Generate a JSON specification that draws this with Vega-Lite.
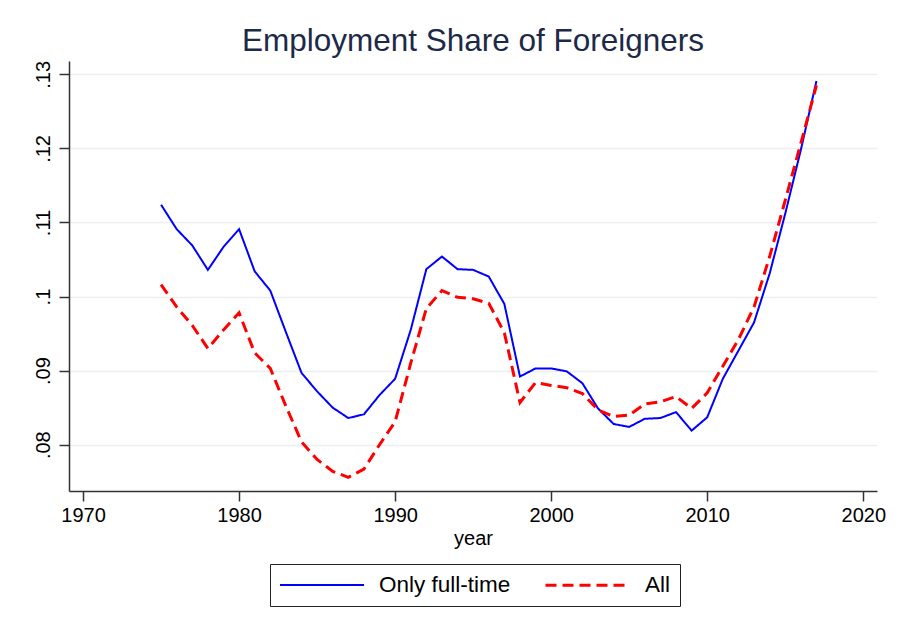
{
  "$schema": "https://vega.github.io/schema/vega-lite/v6.json",
  "width": 808,
  "height": 430,
  "autosize": {"type": "none"},
  "padding": {"left": 69, "top": 61, "right": 22, "bottom": 141},
  "background": "white",
  "config": {
    "view": {"stroke": null},
    "font": "Liberation Sans"
  },
  "title": {
    "text": "Employment Share of Foreigners",
    "font": "Liberation Sans",
    "fontSize": 31.5,
    "fontWeight": "normal",
    "color": "#1c2a48",
    "anchor": "middle",
    "offset": 3
  },
  "data": {
    "values": [
      {"year": 1975, "series": "Only full-time", "value": 0.1124},
      {"year": 1976, "series": "Only full-time", "value": 0.1091},
      {"year": 1977, "series": "Only full-time", "value": 0.1069},
      {"year": 1978, "series": "Only full-time", "value": 0.1036},
      {"year": 1979, "series": "Only full-time", "value": 0.1067},
      {"year": 1980, "series": "Only full-time", "value": 0.1091},
      {"year": 1981, "series": "Only full-time", "value": 0.1034},
      {"year": 1982, "series": "Only full-time", "value": 0.1008},
      {"year": 1983, "series": "Only full-time", "value": 0.0952},
      {"year": 1984, "series": "Only full-time", "value": 0.0897},
      {"year": 1985, "series": "Only full-time", "value": 0.0872},
      {"year": 1986, "series": "Only full-time", "value": 0.0850},
      {"year": 1987, "series": "Only full-time", "value": 0.0836},
      {"year": 1988, "series": "Only full-time", "value": 0.0841},
      {"year": 1989, "series": "Only full-time", "value": 0.0867},
      {"year": 1990, "series": "Only full-time", "value": 0.0889},
      {"year": 1991, "series": "Only full-time", "value": 0.0955},
      {"year": 1992, "series": "Only full-time", "value": 0.1037},
      {"year": 1993, "series": "Only full-time", "value": 0.1054},
      {"year": 1994, "series": "Only full-time", "value": 0.1037},
      {"year": 1995, "series": "Only full-time", "value": 0.1036},
      {"year": 1996, "series": "Only full-time", "value": 0.1027},
      {"year": 1997, "series": "Only full-time", "value": 0.0990},
      {"year": 1998, "series": "Only full-time", "value": 0.0892},
      {"year": 1999, "series": "Only full-time", "value": 0.0903},
      {"year": 2000, "series": "Only full-time", "value": 0.0903},
      {"year": 2001, "series": "Only full-time", "value": 0.0899},
      {"year": 2002, "series": "Only full-time", "value": 0.0883},
      {"year": 2003, "series": "Only full-time", "value": 0.0849},
      {"year": 2004, "series": "Only full-time", "value": 0.0828},
      {"year": 2005, "series": "Only full-time", "value": 0.0824},
      {"year": 2006, "series": "Only full-time", "value": 0.0835},
      {"year": 2007, "series": "Only full-time", "value": 0.0836},
      {"year": 2008, "series": "Only full-time", "value": 0.0844},
      {"year": 2009, "series": "Only full-time", "value": 0.0819},
      {"year": 2010, "series": "Only full-time", "value": 0.0837},
      {"year": 2011, "series": "Only full-time", "value": 0.0889},
      {"year": 2012, "series": "Only full-time", "value": 0.0927},
      {"year": 2013, "series": "Only full-time", "value": 0.0965},
      {"year": 2014, "series": "Only full-time", "value": 0.1031},
      {"year": 2015, "series": "Only full-time", "value": 0.1112},
      {"year": 2016, "series": "Only full-time", "value": 0.1198},
      {"year": 2017, "series": "Only full-time", "value": 0.1291},
      {"year": 1975, "series": "All", "value": 0.1016},
      {"year": 1976, "series": "All", "value": 0.0986},
      {"year": 1977, "series": "All", "value": 0.0961},
      {"year": 1978, "series": "All", "value": 0.0930},
      {"year": 1979, "series": "All", "value": 0.0955},
      {"year": 1980, "series": "All", "value": 0.0978},
      {"year": 1981, "series": "All", "value": 0.0924},
      {"year": 1982, "series": "All", "value": 0.0903},
      {"year": 1983, "series": "All", "value": 0.0852},
      {"year": 1984, "series": "All", "value": 0.0804},
      {"year": 1985, "series": "All", "value": 0.0780},
      {"year": 1986, "series": "All", "value": 0.0764},
      {"year": 1987, "series": "All", "value": 0.0756},
      {"year": 1988, "series": "All", "value": 0.0767},
      {"year": 1989, "series": "All", "value": 0.0800},
      {"year": 1990, "series": "All", "value": 0.0831},
      {"year": 1991, "series": "All", "value": 0.0910},
      {"year": 1992, "series": "All", "value": 0.0984},
      {"year": 1993, "series": "All", "value": 0.1008},
      {"year": 1994, "series": "All", "value": 0.0999},
      {"year": 1995, "series": "All", "value": 0.0997},
      {"year": 1996, "series": "All", "value": 0.0991},
      {"year": 1997, "series": "All", "value": 0.0951},
      {"year": 1998, "series": "All", "value": 0.0857},
      {"year": 1999, "series": "All", "value": 0.0884},
      {"year": 2000, "series": "All", "value": 0.0880},
      {"year": 2001, "series": "All", "value": 0.0877},
      {"year": 2002, "series": "All", "value": 0.0869},
      {"year": 2003, "series": "All", "value": 0.0847},
      {"year": 2004, "series": "All", "value": 0.0838},
      {"year": 2005, "series": "All", "value": 0.0840},
      {"year": 2006, "series": "All", "value": 0.0855},
      {"year": 2007, "series": "All", "value": 0.0858},
      {"year": 2008, "series": "All", "value": 0.0865},
      {"year": 2009, "series": "All", "value": 0.0849},
      {"year": 2010, "series": "All", "value": 0.0870},
      {"year": 2011, "series": "All", "value": 0.0906},
      {"year": 2012, "series": "All", "value": 0.0942},
      {"year": 2013, "series": "All", "value": 0.0986},
      {"year": 2014, "series": "All", "value": 0.1054},
      {"year": 2015, "series": "All", "value": 0.1130},
      {"year": 2016, "series": "All", "value": 0.1207},
      {"year": 2017, "series": "All", "value": 0.1285}
    ]
  },
  "mark": {"type": "line", "clip": false},
  "encoding": {
    "x": {
      "field": "year",
      "type": "quantitative",
      "scale": {"domain": [1969.1, 2020.88], "nice": false, "zero": false},
      "axis": {
        "values": [1970, 1980, 1990, 2000, 2010, 2020],
        "format": "d",
        "grid": false,
        "title": "year",
        "titleFont": "Liberation Sans",
        "titleFontSize": 20,
        "titleFontWeight": "normal",
        "titleColor": "#000",
        "titlePadding": 3,
        "labelFont": "Liberation Sans",
        "labelFontSize": 20,
        "labelColor": "#000",
        "labelPadding": 4,
        "tickSize": 10,
        "tickColor": "#333",
        "tickWidth": 1.5,
        "domainColor": "#333",
        "domainWidth": 1.5
      }
    },
    "y": {
      "field": "value",
      "type": "quantitative",
      "scale": {"domain": [0.07375, 0.1318], "nice": false, "zero": false},
      "axis": {
        "values": [0.08, 0.09, 0.1, 0.11, 0.12, 0.13],
        "labelExpr": "replace(format(datum.value, '.2~f'), '0.', '.')",
        "title": null,
        "grid": true,
        "gridColor": "#e9eff2",
        "gridWidth": 1.6,
        "labelFont": "Liberation Sans",
        "labelFontSize": 20,
        "labelColor": "#000",
        "labelAngle": -90,
        "labelAlign": "center",
        "labelBaseline": "bottom",
        "labelPadding": 6,
        "tickSize": 10,
        "tickColor": "#333",
        "tickWidth": 1.5,
        "domainColor": "#333",
        "domainWidth": 1.5
      }
    },
    "color": {
      "field": "series",
      "type": "nominal",
      "sort": ["Only full-time", "All"],
      "scale": {"domain": ["Only full-time", "All"], "range": ["#0000ff", "#ff0000"]},
      "legend": {
        "title": null,
        "orient": "none",
        "legendX": 201,
        "legendY": 503,
        "direction": "horizontal",
        "strokeColor": "#222",
        "fillColor": "white",
        "padding": 9,
        "labelFont": "Liberation Sans",
        "labelFontSize": 22.5,
        "labelColor": "#000",
        "labelOffset": 77,
        "columnPadding": 28,
        "symbolType": "M-1,0H7",
        "symbolSize": 441,
        "symbolStrokeWidth": 2.2
      }
    },
    "strokeWidth": {
      "field": "series",
      "type": "nominal",
      "sort": ["Only full-time", "All"],
      "scale": {"domain": ["Only full-time", "All"], "range": [2, 3]},
      "legend": null
    },
    "strokeDash": {
      "field": "series",
      "type": "nominal",
      "sort": ["Only full-time", "All"],
      "scale": {"domain": ["Only full-time", "All"], "range": [[1, 0], [11, 6]]},
      "legend": {
        "title": null,
        "orient": "none",
        "legendX": 201,
        "legendY": 503,
        "direction": "horizontal",
        "strokeColor": "#222",
        "fillColor": "white",
        "padding": 9,
        "labelFont": "Liberation Sans",
        "labelFontSize": 22.5,
        "labelColor": "#000",
        "labelOffset": 77,
        "columnPadding": 28,
        "symbolType": "M-1,0H7",
        "symbolSize": 441,
        "symbolStrokeWidth": 2.2
      }
    }
  }
}
